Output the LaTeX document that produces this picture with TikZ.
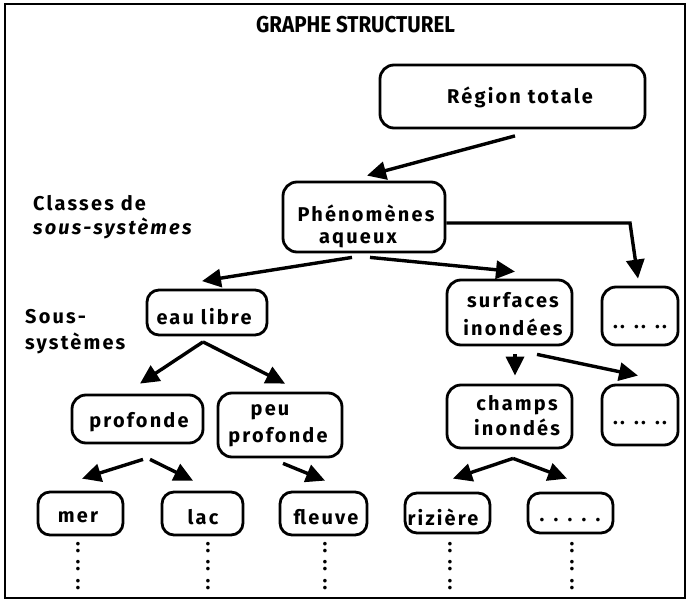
\documentclass[tikz,border=0pt]{standalone}
\usepackage{fontspec}
\setmainfont{Fira Sans}
\newfontfamily\labfont[LetterSpace=11]{Fira Sans}
\usetikzlibrary{arrows.meta,calc}
\begin{document}
\begin{tikzpicture}[x=1bp,y=-1bp,
  box/.style={draw, line width=2.8bp, rounded corners=14bp, inner sep=0pt},
  sbox/.style={box, rounded corners=12bp},
  lab/.style={font=\labfont\bfseries\fontsize{20}{24}\selectfont, align=center, inner sep=0pt},
  side/.style={lab, anchor=west, align=left},
  arr/.style={line width=3.4bp, -{Triangle[length=19bp,width=18bp]}},
  dots/.style={lab, align=center}]
\useasboundingbox (0,0) rectangle (687,602);
\draw[line width=2.2bp] (5,4) rectangle (685,598);

% title
\node[inner sep=0pt, font=\bfseries\fontsize{23}{26}\selectfont] (title) at (355.5,25) {\scalebox{0.9}[1]{GRAPHE STRUCTUREL}};

% side labels
\node[side] (cl1) at (33,203) {Classes de};
\node[side, font=\labfont\bfseries\itshape\fontsize{20}{24}\selectfont] (cl2) at (33,228) {sous-systèmes};
\node[side] (ss1) at (25,317) {Sous-};
\node[side] (ss2) at (25,343) {systèmes};

% boxes
\node[box, minimum width=265bp, minimum height=63bp] (rtb) at (512.5,96.5) {};
\node[box, minimum width=162bp, minimum height=70bp] (phb) at (364,217) {};
\node[sbox, minimum width=120bp, minimum height=45bp] (elb) at (207,312.5) {};
\node[box, minimum width=125bp, minimum height=65bp] (sib) at (509.5,312.5) {};
\node[box, minimum width=76bp, minimum height=58bp] (d1b) at (640,316) {};
\node[box, minimum width=131bp, minimum height=48bp] (prb) at (137.5,419) {};
\node[box, minimum width=124bp, minimum height=64bp] (ppb) at (280,425) {};
\node[box, minimum width=125bp, minimum height=63bp] (cib) at (509.5,416.5) {};
\node[box, minimum width=76bp, minimum height=60bp] (d2b) at (640,415) {};
\node[sbox, minimum width=85bp, minimum height=43bp] (merb) at (80.5,513.5) {};
\node[sbox, minimum width=81bp, minimum height=43bp] (lacb) at (202.5,513.5) {};
\node[sbox, minimum width=87bp, minimum height=43bp] (flb) at (323.5,513.5) {};
\node[sbox, minimum width=85bp, minimum height=40bp] (rib) at (447.5,513) {};
\node[sbox, minimum width=85bp, minimum height=40bp] (d3b) at (570.5,513) {};

% texts
\node[lab] (rt) at (520,97) {Région totale};
\node[lab] (ph1) at (366,213) {Phénomènes};
\node[lab] (ph2) at (358,240) {aqueux};
\node[lab] (el) at (204,317) {eau libre};
\node[lab] (si1) at (513,300) {surfaces};
\node[lab] (si2) at (513,327) {inondées};
\node[lab] (d1) at (640,327) {.. .. ..};
\node[lab] (pr) at (139,422) {profonde};
\node[lab] (pp1) at (270,412) {peu};
\node[lab] (pp2) at (278,437) {profonde};
\node[lab] (ci1) at (517,405) {champs};
\node[lab] (ci2) at (517,427) {inondés};
\node[lab] (d2) at (640,423) {.. .. ..};
\node[lab] (mer) at (78,517) {mer};
\node[lab] (lac) at (203,517) {lac};
\node[lab] (fl) at (326,517) {fleuve};
\node[lab] (ri) at (443,517) {rizière};
\node[lab] (d3) at (570,520) {. . . . .};

% continuation dots
\foreach \n/\x in {m/78,l/208,f/325,r/450,d/572}{
  \node[dots] (col\n) at (\x,566) {:\\[-5bp]:\\[-5bp]:};
}

% arrows
\draw[arr] ($(rtb.south)+(2.5,6.5)$) -- ($(phb.north)+(3,-5)$);
\draw[arr] ($(phb.south)+(-12,4)$) -- ($(elb.north)+(-5,-7.5)$);
\draw[arr] ($(phb.south)+(6,4)$) -- ($(sib.north)+(5.5,-7)$);
\coordinate (corner) at (630,223);
\draw[arr] (phb.east |- corner) -- (corner) -- ($(d1b.north)+(-2,-7)$);
\draw[arr] ($(elb.south)+(-4,5.5)$) -- ($(prb.north)+(2.5,-10)$);
\draw[arr] ($(elb.south)+(-4,5.5)$) -- ($(ppb.north)+(5,-8)$);
\draw[arr] ($(sib.south)+(5.5,8)$) -- ($(cib.north)+(5.5,-8)$);
\draw[arr] ($(sib.south)+(27.5,8)$) -- ($(d2b.north)+(-2,-8)$);
\draw[arr] ($(prb.south)+(5.5,15)$) -- ($(merb.north)+(1.5,-12)$);
\draw[arr] ($(prb.south)+(12.5,15)$) -- ($(lacb.north)+(-9.5,-10)$);
\draw[arr] ($(ppb.south)+(3,5)$) -- ($(flb.north)+(1.5,-10)$);
\draw[arr] ($(cib.south)+(3.5,9)$) -- ($(rib.north)+(5.5,-13)$);
\draw[arr] ($(cib.south)+(3.5,9)$) -- ($(d3b.north)+(-3.5,-13)$);
\end{tikzpicture}
\end{document}
